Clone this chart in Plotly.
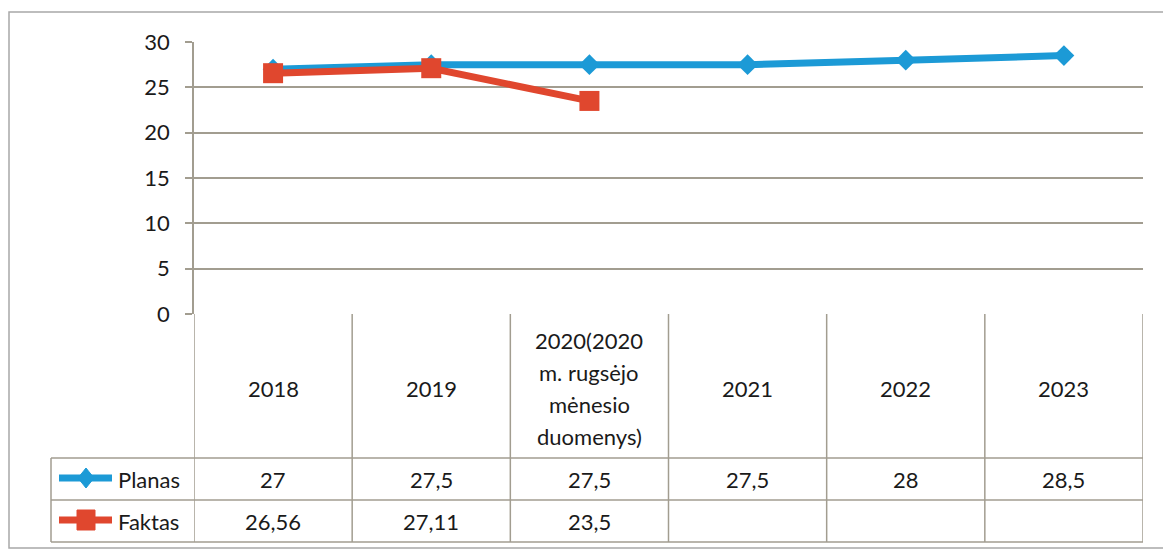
import plotly.graph_objects as go

# ---- data ----
categories = ["2018", "2019", "2020(2020<br>m. rugsėjo<br>mėnesio<br>duomenys)", "2021", "2022", "2023"]
planas = [27, 27.5, 27.5, 27.5, 28, 28.5]
faktas = [26.56, 27.11, 23.5, None, None, None]
series_names = ["Planas", "Faktas"]
y_ticks = [0, 5, 10, 15, 20, 25, 30]

# the page puts the figure at an 8px offset; work in screen pixels and convert
OFF = 8
W, H = 1171 - OFF, 552 - OFF
BLUE = "#1C9AD6"
RED = "#E0472E"
GRID = "#a29d90"
TXT = "#1a1a1a"
FONT = "Lato"
FS = 22


def px(x):
    return (x - OFF) / W


def py(y):
    return 1 - (y - OFF) / H


X0, X1 = 194, 1143
Y_TOP, Y_ZERO = 42, 314
ROW1, ROW2, ROW3 = 458, 500, 542
LEG_LEFT = 51

xs = list(range(len(categories)))

fig = go.Figure()
fig.add_trace(go.Scatter(
    x=xs, y=planas, mode="lines+markers", name=series_names[0],
    line=dict(color=BLUE, width=7),
    marker=dict(symbol="diamond", size=16, color=BLUE),
    showlegend=False, cliponaxis=False,
))
fig.add_trace(go.Scatter(
    x=xs, y=faktas, mode="lines+markers", name=series_names[1],
    line=dict(color=RED, width=7),
    marker=dict(symbol="square", size=20, color=RED),
    showlegend=False, cliponaxis=False,
))

shapes = []
annotations = []
line_style = dict(color=GRID, width=1.5)

# outer frame
shapes.append(dict(type="rect", xref="paper", yref="paper",
                   x0=px(9), x1=px(1166), y0=py(548), y1=py(12),
                   line=dict(color="#a8a8a8", width=1.5)))
# table horizontal lines
for yy in (ROW1, ROW2, ROW3):
    shapes.append(dict(type="line", xref="paper", yref="paper",
                       x0=px(LEG_LEFT), x1=px(X1), y0=py(yy), y1=py(yy), line=line_style))
# legend cell left edge
shapes.append(dict(type="line", xref="paper", yref="paper",
                   x0=px(LEG_LEFT), x1=px(LEG_LEFT), y0=py(ROW1), y1=py(ROW3), line=line_style))
# column boundaries (data coordinates on x)
for i in range(len(categories) + 1):
    shapes.append(dict(type="line", xref="x", yref="paper",
                       x0=i - 0.5, x1=i - 0.5, y0=py(Y_ZERO), y1=py(ROW3), line=line_style))

# category headers (one annotation per text line)
line_h = 32
header_mid = (Y_ZERO + ROW1) / 2 + 2
for i, cat in enumerate(categories):
    parts = cat.split("<br>")
    n = len(parts)
    for k, part in enumerate(parts):
        yc = header_mid + (k - (n - 1) / 2) * line_h
        annotations.append(dict(x=i, y=py(yc), xref="x", yref="paper", text=part,
                                showarrow=False, xanchor="center", yanchor="middle",
                                font=dict(family=FONT, size=FS, color=TXT)))


def fmt(v):
    return f"{v:g}".replace(".", ",")


row_centers = [(ROW1 + ROW2) / 2, (ROW2 + ROW3) / 2]
for r, (vals, name, col) in enumerate(zip([planas, faktas], series_names, [BLUE, RED])):
    yc = row_centers[r]
    for i, v in enumerate(vals):
        if v is None:
            continue
        annotations.append(dict(x=i, y=py(yc), xref="x", yref="paper", text=fmt(v),
                                showarrow=False, xanchor="center", yanchor="middle",
                                font=dict(family=FONT, size=FS, color=TXT)))
    # legend key: line + marker shape
    shapes.append(dict(type="line", xref="paper", yref="paper",
                       x0=px(59), x1=px(112), y0=py(yc - 1), y1=py(yc - 1),
                       line=dict(color=col, width=7)))
    cx, cy = 86, yc - 1
    if r == 0:
        path = (f"M {px(cx - 8)} {py(cy)} L {px(cx)} {py(cy - 10)} "
                f"L {px(cx + 8)} {py(cy)} L {px(cx)} {py(cy + 10)} Z")
        shapes.append(dict(type="path", xref="paper", yref="paper", path=path,
                           fillcolor=col, line=dict(color=col, width=1)))
    else:
        shapes.append(dict(type="rect", xref="paper", yref="paper",
                           x0=px(cx - 9), x1=px(cx + 9), y0=py(cy + 10), y1=py(cy - 10),
                           fillcolor=col, line=dict(color=col, width=1)))
    annotations.append(dict(x=px(116), y=py(yc), xref="paper", yref="paper", text=name,
                            showarrow=False, xanchor="left", yanchor="middle",
                            font=dict(family=FONT, size=FS, color=TXT)))

fig.update_layout(
    width=W, height=H, autosize=False,
    margin=dict(l=0, r=0, t=0, b=0, autoexpand=False),
    paper_bgcolor="white", plot_bgcolor="white",
    shapes=shapes, annotations=annotations,
    xaxis=dict(domain=[px(X0), px(X1)], range=[-0.5, len(categories) - 0.5],
               showticklabels=False, showgrid=False, zeroline=False, showline=False,
               automargin=False, fixedrange=True),
    yaxis=dict(domain=[py(Y_ZERO), py(Y_TOP)], range=[0, 30], tickvals=y_ticks,
               showgrid=True, gridcolor=GRID, gridwidth=1.5, zeroline=False,
               showline=True, linecolor=GRID, linewidth=1.5,
               ticks="outside", ticklen=7, tickcolor=GRID, tickwidth=1.5,
               ticklabelstandoff=11, automargin=False,
               tickfont=dict(family=FONT, size=FS, color=TXT), fixedrange=True),
)

fig.write_html("out.html")
